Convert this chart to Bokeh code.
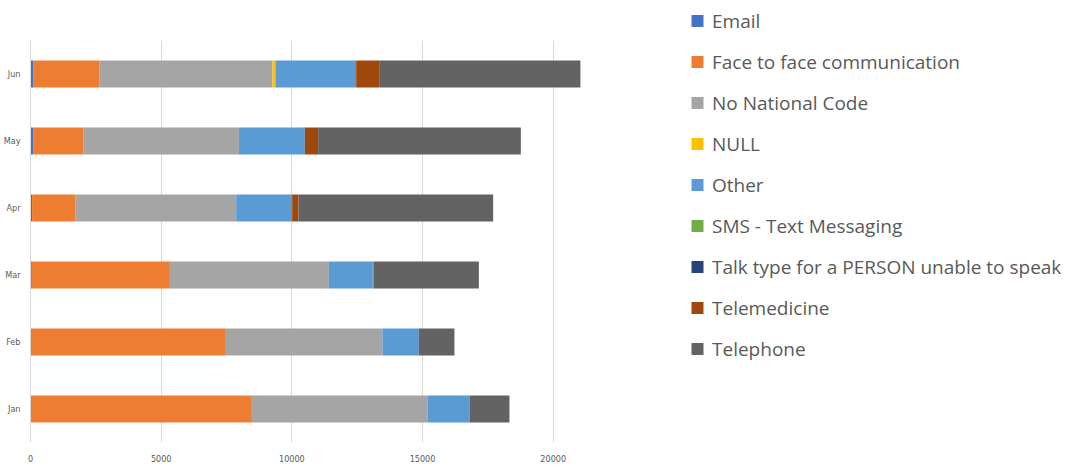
from bokeh.plotting import figure
from bokeh.models import ColumnDataSource, Range1d, FixedTicker, Legend, LegendItem
from bokeh.embed import file_html
from bokeh.resources import INLINE

months = ["Jan", "Feb", "Mar", "Apr", "May", "Jun"]
email = [10, 10, 50, 60, 100, 100]
face_to_face = [8460, 7465, 5283, 1650, 1916, 2528]
no_national_code = [6718, 5991, 6083, 6159, 5957, 6630]
null = [0, 0, 0, 0, 0, 115]
other = [1622, 1392, 1683, 2142, 2524, 3087]
sms = [0, 0, 20, 0, 0, 0]
talk_type = [0, 0, 0, 0, 0, 0]
telemedicine = [0, 0, 20, 242, 509, 880]
telephone = [1515, 1362, 4016, 7448, 7754, 7700]

series_labels = ["Email", "Face to face communication", "No National Code", "NULL",
                 "Other", "SMS - Text Messaging", "Talk type for a PERSON unable to speak",
                 "Telemedicine", "Telephone"]
series_keys = ["email", "f2f", "nnc", "null", "other", "sms", "talk", "tele", "phone"]
colors = ["#4472C4", "#ED7D31", "#A5A5A5", "#FFC000", "#5B9BD5", "#70AD47",
          "#264478", "#9E480E", "#636363"]
x_ticks = [0, 5000, 10000, 15000, 20000]

source = ColumnDataSource(dict(
    month=months, email=email, f2f=face_to_face, nnc=no_national_code, null=null,
    other=other, sms=sms, talk=talk_type, tele=telemedicine, phone=telephone))

p = figure(y_range=months, x_range=Range1d(0, 22000), frame_width=575, frame_height=402,
           output_backend="svg", toolbar_location=None,
           min_border_left=23, min_border_right=0, min_border_top=40, min_border_bottom=18)
p.outline_line_color = None

p.hbar_stack(series_keys, y="month", height=0.4, color=colors, line_color=None, source=source)

items = []
for key, lab, c in zip(series_keys, series_labels, colors):
    r = p.scatter(x=key, y="month", source=source, marker="square", fill_color=c,
                  line_color=None, size=12, visible=False)
    items.append(LegendItem(label=lab, renderers=[r], index=0))

legend = Legend(items=items, location=(77, 73), glyph_width=30, glyph_height=41,
                label_height=41, spacing=0, padding=0, margin=0, label_standoff=-3,
                label_text_font="Open Sans", label_text_font_size="19px",
                label_text_color="#595959", border_line_color=None,
                background_fill_alpha=0, click_policy="none")
p.add_layout(legend, "right")

p.xaxis.ticker = FixedTicker(ticks=x_ticks)
p.xaxis.axis_line_color = None
p.xaxis.major_tick_line_color = None
p.xaxis.minor_tick_line_color = None
p.xaxis.major_label_standoff = 6
p.yaxis.axis_line_color = "#d9d9d9"
p.yaxis.major_tick_line_color = None
p.yaxis.minor_tick_line_color = None
p.yaxis.major_label_standoff = 4
for ax in (p.xaxis, p.yaxis):
    ax.major_label_text_font = "DejaVu Sans Condensed"
    ax.major_label_text_font_size = "9px"
    ax.major_label_text_color = "#595959"

p.xgrid.grid_line_color = "#d9d9d9"
p.ygrid.grid_line_color = None

open("out.html", "w").write(file_html(p, INLINE))
